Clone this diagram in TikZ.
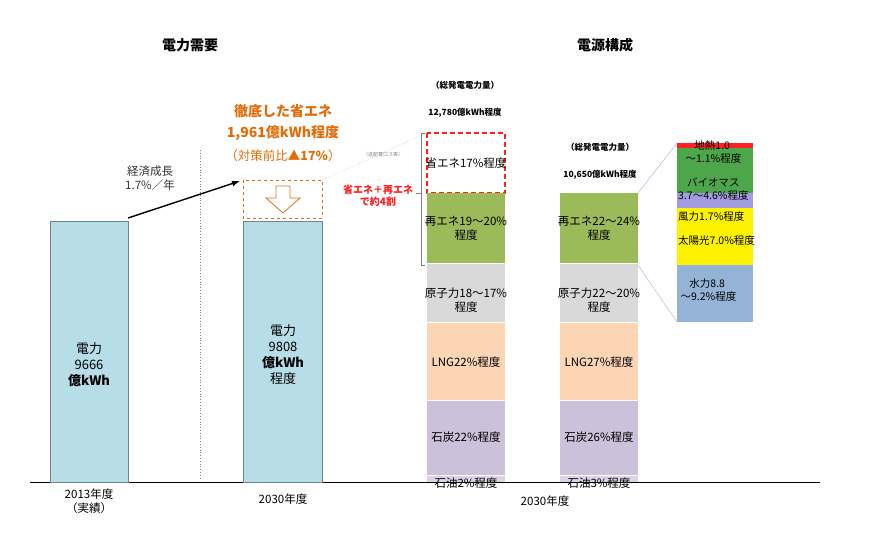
\documentclass[tikz,border=0pt]{standalone}
\usepackage{fontspec}
\usetikzlibrary{arrows.meta}
\setmainfont{Noto Sans CJK JP}
\begin{document}
\begin{tikzpicture}[x=1pt,y=-1pt,
 t/.style={font=\fontsize{11.5}{14}\selectfont,align=center,inner sep=0},
 seg/.style={draw=white,line width=0.6pt},
 bar/.style={fill=barblue,draw=barblue!60!black,line width=0.6pt}]
\definecolor{barblue}{HTML}{B7DEE8}
\definecolor{og}{HTML}{E36C09}
\definecolor{gr}{HTML}{9BBB59}
\definecolor{gy}{HTML}{D9D9D9}
\definecolor{pc}{HTML}{FCD5B5}
\definecolor{lv}{HTML}{CCC1DA}
\definecolor{bl}{HTML}{95B3D7}
\definecolor{dg}{HTML}{4EA64A}
\definecolor{rd}{HTML}{FF2020}
\useasboundingbox (0,0) rectangle (885,536);
\node[t,font=\bfseries\fontsize{14}{16}\selectfont] (h1) at (190,45) {電力需要};
\node[t,font=\bfseries\fontsize{14}{16}\selectfont] (h2) at (605,45) {電源構成};
\draw[gray,dotted,thick] (200,150) -- (200,480);
\draw (30,482) -- (820,482);
% bar1
\draw[bar] (50,221) rectangle (128,482);
\node[t,font=\fontsize{13}{16}\selectfont] (b1) at (89,365) {電力\\9666\\\textbf{億kWh}};
\node[t,gray!40!black] (eg) at (150,178) {経済成長\\1.7\%／年};
% bar2
\draw[bar] (243,221) rectangle (322,482);
\node[t,font=\fontsize{13}{16}\selectfont] (b2) at (283,355) {電力\\9808\\\textbf{億kWh}\\程度};
\draw[og,dashed,thick] (243,180) rectangle (322,218);
\coordinate (a1) at (128,218);
\coordinate (a2) at (240,181);
\draw[-{Latex[length=8pt]},line width=1.4pt] (a1) -- (a2);
\draw[og!80!brown,thick,fill=white] (276,186) -- (290,186) -- (290,198) -- (300,198) -- (283,213) -- (266,198) -- (276,198) -- cycle;
\node[t,og,font=\bfseries\fontsize{14}{16}\selectfont] (s1) at (283,111) {徹底した省エネ};
\node[t,og,font=\bfseries\fontsize{14}{16}\selectfont] (s2) at (283,133) {1,961億kWh程度};
\node[t,og,font=\fontsize{12.5}{14}\selectfont] (s3) at (283,156) {（対策前比\textbf{▲17\%}）};
\node[t,gray,font=\fontsize{5}{6}\selectfont] (loss) at (383,155) {（送配電ロス等）};
\draw[gray,dotted] (322,180) -- (427,133);
\node[t,rd,font=\bfseries\fontsize{10}{12}\selectfont] (r) at (378,196) {省エネ＋再エネ\\で約4割};
\draw[gray] (425,133) -- (421,133) -- (421,265) -- (425,265);
\draw[gray] (416,193) -- (421,193);
% bar3
\node[t,font=\bfseries\fontsize{8.5}{10}\selectfont] at (465,85) {（総発電電力量）};
\node[t,font=\bfseries\fontsize{8.5}{10}\selectfont] at (465,113) {12,780億kWh程度};
\draw[rd,dash pattern=on 5pt off 3pt,line width=1.5pt] (427,133) rectangle (505,193);
\node[t] at (466,163) {省エネ17\%程度};
\fill[gr] (427,193) rectangle (505,263);
\fill[gy] (427,263) rectangle (505,322);
\fill[pc] (427,322) rectangle (505,400);
\fill[lv] (427,400) rectangle (505,475);
\fill[lv!70!white] (427,475) rectangle (505,482);
\draw[seg] (427,263)--(505,263) (427,322)--(505,322) (427,400)--(505,400) (427,475)--(505,475);
\node[t] at (466,228) {再エネ19～20\%\\程度};
\node[t] at (466,300) {原子力18～17\%\\程度};
\node[t] at (466,362) {LNG22\%程度};
\node[t] at (466,437) {石炭22\%程度};
\node[t] at (466,483) {石油2\%程度};
% bar4
\node[t,font=\bfseries\fontsize{8.5}{10}\selectfont] at (600,147) {（総発電電力量）};
\node[t,font=\bfseries\fontsize{8.5}{10}\selectfont] at (600,175) {10,650億kWh程度};
\fill[gr] (560,193) rectangle (638,263);
\fill[gy] (560,263) rectangle (638,322);
\fill[pc] (560,322) rectangle (638,400);
\fill[lv] (560,400) rectangle (638,475);
\fill[lv!70!white] (560,475) rectangle (638,482);
\draw[seg] (560,263)--(638,263) (560,322)--(638,322) (560,400)--(638,400) (560,475)--(638,475);
\node[t] at (599,228) {再エネ22～24\%\\程度};
\node[t] at (599,300) {原子力22～20\%\\程度};
\node[t] at (599,362) {LNG27\%程度};
\node[t] at (599,437) {石炭26\%程度};
\node[t] at (599,483) {石油3\%程度};
% breakdown
\fill[rd] (677,143) rectangle (753,148);
\fill[dg] (677,148) rectangle (753,193);
\fill[lv!80!blue] (677,193) rectangle (753,208);
\fill[yellow] (677,208) rectangle (753,265);
\fill[bl] (677,265) rectangle (753,322);
\draw[bl] (638,193) -- (677,143) (638,265) -- (677,322);
\begin{scope}[t/.append style={font=\fontsize{10.5}{13}\selectfont}]
\node[t,anchor=west] at (683,152) {地熱1.0\\\ ～1.1\%程度};
\node[t,anchor=west] at (678,189) {バイオマス\\3.7～4.6\%程度};
\node[t,anchor=west] at (678,217) {風力1.7\%程度};
\node[t,anchor=west] at (678,241) {太陽光7.0\%程度};
\node[t,anchor=west] at (678,290) {水力8.8\\\ ～9.2\%程度};
\end{scope}
% labels
\node[t] at (89,501) {2013年度\\（実績）};
\node[t] at (283,499) {2030年度};
\node[t] at (545,501) {2030年度};
\end{tikzpicture}
\end{document}
